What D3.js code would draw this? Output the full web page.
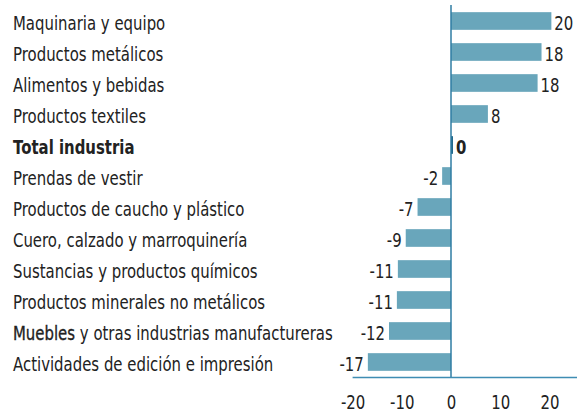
<!DOCTYPE html>
<html>
<head>
<meta charset="utf-8">
<script src="https://cdn.jsdelivr.net/npm/d3@7"></script>
<style>
  body { margin: 0; background: #fff; }
  svg { display: block; }
  text { font-family: "DejaVu Sans", Verdana, sans-serif; fill: #222; }
</style>
</head>
<body>
<svg width="577" height="412"></svg>
<script>
// sectors, top to bottom
var sectors = ["Maquinaria y equipo", "Productos metálicos", "Alimentos y bebidas",
  "Productos textiles", "Total industria", "Prendas de vestir",
  "Productos de caucho y plástico", "Cuero, calzado y marroquinería",
  "Sustancias y productos químicos", "Productos minerales no metálicos",
  "Muebles y otras industrias manufactureras", "Actividades de edición e impresión"];
var values = [20.4, 18.4, 17.6, 7.5, 0.4, -1.8, -6.8, -9.2, -10.8, -11.0, -12.6, -16.9];
var valueLabels = ["20", "18", "18", "8", "0", "-2", "-7", "-9", "-11", "-11", "-12", "-17"];
var ticks = [-20, -10, 0, 10, 20];

const svg = d3.select("svg");
var W = 577, sx = 0.765, fs = 19.5;

var x = d3.scaleLinear().domain([-20, 20]).range([352.6, 549.4]);
var y = d3.scaleBand().domain(sectors).range([5.5, 377.5]).paddingInner(0.43).paddingOuter(0.215);

// squeeze text horizontally like the original
function squeeze(sel, anchorX, baseY) {
  sel.attr("transform", function(d, i) {
    return "translate(" + anchorX(d, i) + "," + baseY(d, i) + ") scale(" + sx + ",1)";
  });
}

svg.selectAll("rect.bar")
  .data(values)
  .enter().append("rect")
  .attr("class", "bar")
  .attr("x", d => x(Math.min(0, d)))
  .attr("y", (d, i) => y(sectors[i]))
  .attr("width", d => Math.abs(x(d) - x(0)))
  .attr("height", y.bandwidth())
  .attr("fill", (d, i) => sectors[i] == "Total industria" ? "#1d6587" : "#69a6bb");

// category labels
var lab = svg.selectAll("text.cat")
  .data(sectors)
  .enter().append("text")
  .attr("class", "cat")
  .style("font-size", fs + "px")
  .style("font-weight", d => d == "Total industria" ? "bold" : null);
squeeze(lab, () => 13, d => y(d) + y.bandwidth() / 2 + 9);
lab.each(function(d) {
  var t = d3.select(this);
  if (d.indexOf("Muebles") == 0) {
    t.append("tspan").text("Muebles").style("stroke", "#222").style("stroke-width", 0.35);
    t.append("tspan").text(d.slice(7));
  } else {
    t.text(d);
  }
});

// value labels
var vl = svg.selectAll("text.val")
  .data(values)
  .enter().append("text")
  .attr("class", "val")
  .style("font-size", fs + "px")
  .style("font-weight", (d, i) => sectors[i] == "Total industria" ? "bold" : null)
  .attr("text-anchor", d => d < 0 ? "end" : "start")
  .text((d, i) => valueLabels[i]);
squeeze(vl, d => d < 0 ? x(d) - 4 : x(d) + 3, (d, i) => y(sectors[i]) + y.bandwidth() / 2 + 8.5);

// zero line
svg.append("line")
  .attr("x1", x(0)).attr("x2", x(0))
  .attr("y1", 5).attr("y2", 378)
  .attr("stroke", "#2f7ca3").attr("stroke-width", 1.5);

// bottom axis
var axis = svg.append("g")
  .attr("transform", "translate(0,377.5)")
  .call(d3.axisBottom(x).tickValues(ticks).tickSize(0).tickPadding(0).tickFormat(d => String(d)));
axis.select(".domain").remove();
axis.append("line")
  .attr("x1", x(-20)).attr("x2", W)
  .attr("stroke", "#3f8db3").attr("stroke-width", 1.5);
axis.selectAll(".tick text")
  .attr("y", 31.5)
  .attr("dy", null)
  .style("font-size", fs + "px")
  .attr("fill", "#222")
  .attr("transform", "scale(" + sx + ",1)");
</script>
</body>
</html>
